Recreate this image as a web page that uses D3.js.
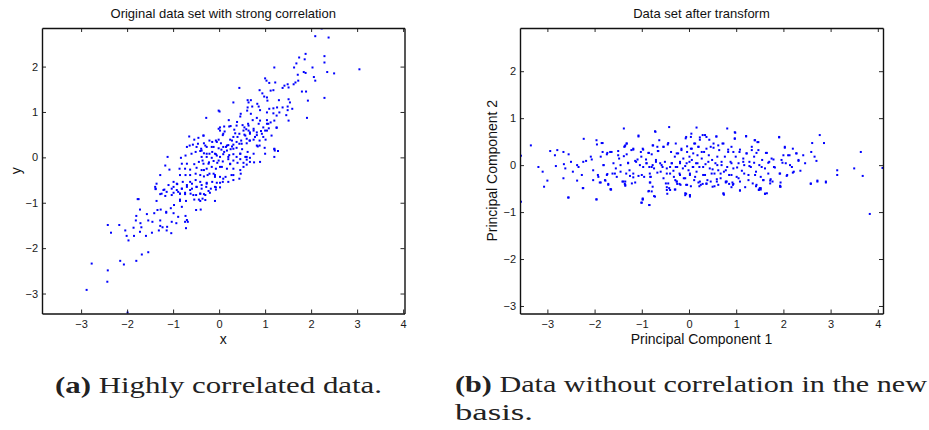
<!DOCTYPE html>
<html>
<head>
<meta charset="utf-8">
<script src="https://cdn.jsdelivr.net/npm/d3@7"></script>
<style>
  body { margin: 0; background: #fff; }
  svg { display: block; }
  .tick text { font-family: "Liberation Sans", Arial, sans-serif; font-size: 11px; fill: #1a1a1a; }
  .ttl, .lbl { font-family: "Liberation Sans", Arial, sans-serif; fill: #111; }
  .cap { font-family: "Liberation Serif", "Times New Roman", serif; font-size: 23px; fill: #222; }
</style>
</head>
<body>
<script>
// original data (x, y)
let origPoints = [
  [2.23,2.84],[2.09,2.67],[2.38,2.64],[3.05,1.94],[2.29,2.23],[1.88,2.28],[1.86,2.16],[1.74,2.20],[1.68,2.07],[2.29,2.09],
  [2.03,1.98],[1.63,1.98],[2.50,1.85],[2.35,1.88],[1.84,1.88],[1.88,1.86],[1.71,1.82],[2.06,1.77],[1.72,1.69],[1.66,1.65],
  [2.09,1.69],[1.62,1.61],[1.49,1.61],[1.51,1.54],[1.80,1.45],[1.89,1.45],[2.29,1.31],[1.93,1.25],[1.20,1.98],[0.44,1.53],
  [1.00,1.74],[1.03,1.69],[1.22,1.65],[1.09,1.64],[1.42,1.58],[1.38,1.53],[1.18,1.48],[1.12,1.47],[0.94,1.41],[0.98,1.34],
  [1.04,1.32],[0.88,1.48],[0.62,1.26],[0.69,1.26],[0.64,1.21],[0.31,1.21],[1.30,1.26],[1.51,1.28],[1.54,1.21],[1.49,1.12],
  [1.38,1.10],[1.26,1.10],[1.59,1.07],[1.49,1.04],[1.46,0.93],[1.51,0.81],[1.91,0.87],[1.05,1.25],[0.83,1.18],[0.86,1.12],
  [0.72,1.12],[0.62,1.10],[0.61,1.03],[1.18,1.08],[1.09,1.07],[0.89,1.04],[1.04,0.99],[1.18,0.97],[1.31,0.99],[1.25,0.92],
  [0.47,0.96],[0.46,0.90],[0.69,0.96],[-0.01,1.03],[0.01,1.01],[-0.28,0.87],[0.21,0.82],[0.39,0.78],[0.82,0.87],[0.89,0.81],
  [0.73,0.82],[1.04,0.82],[1.20,0.81],[1.12,0.77],[1.25,0.65],[1.04,0.74],[1.08,0.64],[0.63,0.74],[0.51,0.71],[0.25,0.69],
  [0.11,0.68],[0.02,0.66],[0.55,0.66],[0.59,0.62],[0.64,0.59],[0.75,0.59],[0.82,0.55],[0.91,0.58],[1.00,0.59],[0.33,0.61],
  [0.22,0.68],[-0.01,0.63],[0.12,0.57],[0.35,0.53],[0.44,0.52],[0.55,0.50],[0.67,0.52],[0.82,0.49],[0.96,0.45],[1.01,0.39],
  [0.88,0.37],[0.75,0.39],[0.60,0.41],[0.67,0.37],[0.48,0.37],[0.38,0.34],[0.31,0.45],[0.08,0.49],[0.24,0.39],[0.44,0.30],
  [0.60,0.31],[0.84,0.24],[0.99,0.21],[1.20,0.18],[1.28,0.14],[1.20,0.01],[1.21,0.15],[0.88,0.26],[0.31,0.28],[0.28,0.24],
  [0.20,0.27],[0.15,0.23],[0.09,0.23],[0.04,0.31],[-0.01,0.39],[-0.07,0.37],[-0.21,0.37],[-0.15,0.34],[-0.33,0.31],[-0.34,0.48],
  [-0.45,0.43],[-0.65,0.46],[-0.54,0.39],[-0.46,0.30],[-0.57,0.28],[-0.64,0.26],[-0.70,0.23],[-0.49,0.23],[-0.39,0.19],[-0.27,0.23],
  [-0.12,0.23],[-0.01,0.20],[0.05,0.17],[0.17,0.15],[0.25,0.18],[0.38,0.21],[0.50,0.18],[0.62,0.12],[0.46,0.08],[0.31,0.07],
  [0.38,0.01],[0.22,0.05],[0.09,0.07],[-0.07,0.07],[-0.15,0.12],[-0.21,0.08],[-0.33,0.09],[-0.41,0.14],[-0.51,0.12],[-0.60,0.08],
  [-0.73,0.04],[-0.83,-0.01],[-1.12,0.01],[-0.38,0.01],[-0.27,0.01],[-0.16,-0.01],[-0.05,0.04],[0.02,0.01],[0.20,-0.04],[0.31,-0.07],
  [0.46,-0.04],[0.57,0.01],[0.67,-0.01],[0.60,-0.05],[0.76,-0.11],[0.53,-0.12],[0.40,-0.12],[0.24,-0.15],[0.08,-0.09],[-0.04,-0.12],
  [-0.12,-0.08],[-0.22,-0.11],[-0.34,-0.14],[-0.44,-0.10],[-0.54,-0.15],[-0.70,-0.14],[-0.81,-0.14],[-1.17,-0.18],[-1.08,-0.27],[-0.86,-0.25],
  [-0.74,-0.25],[-0.63,-0.27],[-0.49,-0.23],[-0.38,-0.28],[-0.27,-0.25],[-0.16,-0.21],[-0.07,-0.25],[0.06,-0.21],[0.17,-0.25],[0.31,-0.25],
  [0.47,-0.36],[0.44,-0.47],[0.60,-0.16],[-1.28,-0.39],[-1.36,-0.58],[-1.38,-0.69],[-1.19,-0.71],[-0.99,-0.54],[-0.85,-0.39],[-0.73,-0.39],
  [-0.63,-0.39],[-0.51,-0.36],[-0.41,-0.39],[-0.33,-0.42],[-0.21,-0.36],[-0.09,-0.39],[0.02,-0.43],[0.14,-0.43],[0.27,-0.39],[0.31,-0.50],
  [0.20,-0.54],[0.08,-0.54],[-0.05,-0.56],[-0.15,-0.54],[-0.27,-0.56],[-0.41,-0.54],[-0.51,-0.50],[-0.63,-0.54],[-0.79,-0.54],[-0.91,-0.59],
  [-1.03,-0.69],[-0.92,-0.72],[-0.81,-0.69],[-0.70,-0.65],[-0.59,-0.69],[-0.49,-0.65],[-0.38,-0.69],[-0.28,-0.65],[-0.18,-0.69],[-0.07,-0.71],
  [0.02,-0.66],[-1.14,-0.76],[-0.99,-0.78],[-0.85,-0.80],[-0.74,-0.81],[-0.62,-0.80],[-0.50,-0.83],[-0.41,-0.80],[-0.30,-0.83],[-0.20,-0.78],
  [-1.25,-0.80],[-1.75,-0.92],[-0.85,-0.93],[-0.44,-0.93],[-0.36,-0.91],[-1.39,-0.65],[-1.38,-0.70],[-1.21,-0.72],[-1.10,-0.61],[-0.99,-0.65],
  [-0.92,-0.58],[-0.81,-0.69],[-0.70,-0.61],[-0.59,-0.58],[-0.49,-0.65],[-0.38,-0.61],[-0.27,-0.58],[-0.09,-0.65],[0.02,-0.56],[-1.36,-0.96],
  [-1.28,-0.81],[-1.17,-0.85],[-1.03,-0.83],[-0.89,-0.76],[-0.85,-0.80],[-0.74,-0.78],[-0.63,-0.72],[-0.56,-0.83],[-0.41,-0.80],[-0.33,-0.81],
  [-0.23,-0.74],[-0.07,-0.66],[-1.77,-0.92],[-1.27,-1.15],[-1.34,-1.16],[-1.15,-1.20],[-1.05,-1.12],[-0.98,-1.05],[-0.81,-1.09],[-0.99,-1.23],
  [-1.15,-1.22],[-0.85,-0.96],[-0.72,-0.96],[-0.54,-0.93],[-0.41,-0.96],[-0.30,-0.94],[-0.09,-0.96],[-0.50,-1.16],[-0.40,-1.15],[-0.89,-1.31],
  [-0.73,-1.29],[-0.70,-1.38],[-0.74,-1.42],[-0.68,-1.42],[-0.93,-1.45],[-1.03,-1.42],[-1.28,-1.39],[-1.41,-1.23],[-1.57,-1.25],[-1.72,-1.15],
  [-1.80,-1.29],[-1.81,-1.39],[-1.54,-1.39],[-1.45,-1.42],[-1.71,-1.45],[-1.69,-1.54],[-1.86,-1.55],[-1.28,-1.51],[-1.23,-1.54],[-1.13,-1.53],
  [-1.04,-1.67],[-1.14,-1.61],[-1.31,-1.61],[-1.46,-1.66],[-1.59,-1.73],[-1.72,-1.64],[-1.85,-1.73],[-2.04,-1.61],[-2.01,-1.73],[-1.97,-1.83],
  [-2.17,-1.49],[-2.35,-1.66],[-2.42,-1.49],[-0.72,-1.56],[-1.54,-2.09],[-1.68,-2.14],[-1.80,-2.28],[-2.15,-2.28],[-2.07,-2.36],[-2.77,-2.34],
  [-2.42,-2.49],[-2.43,-2.74],[-2.88,-2.92],[-1.99,-3.42],
  [-0.34,0.48],[-0.30,0.26],[-0.38,0.15],[-0.27,0.08],[-0.36,-0.07],[-0.23,-0.14],[-0.33,-0.28],[-0.25,-0.39],[-0.12,-0.36],[-0.16,0.23],
  [-0.09,0.08],[-0.05,0.34],[-0.01,-0.07],[0.02,-0.21],[0.09,0.52],[0.11,0.12],[0.17,0.26],[0.20,0.01],[0.24,-0.14],[0.28,0.37],
  [0.31,0.19],[0.38,0.70],[0.40,0.45],[0.46,0.08],[0.49,0.30],[0.53,0.59],[0.57,0.48],[0.60,0.01],[0.64,0.70],[0.66,0.37],
  [0.67,0.55],[0.75,0.63],[0.78,0.45],[0.82,0.26],[0.86,0.74],[0.93,0.52],[0.96,0.66],[1.04,0.59],[1.07,0.74],[1.14,0.48],
  [1.25,0.66],[1.20,0.19],[1.00,0.08],[0.89,-0.10],[0.67,-0.10],[0.46,-0.28],[0.31,-0.39],[0.09,-0.47],[-0.09,-0.43],[0.53,-0.21],
  [0.75,0.08],[0.02,0.59]
];

// transformed data (pc1, pc2)
let pcPoints = [
  [-3.58,0.42],[-3.56,0.20],[-3.35,0.42],[-3.19,-0.04],[-3.10,-0.14],[-3.07,-0.46],[-3.00,-0.33],[-2.94,0.30],[-2.84,0.21],[-2.79,0.32],
  [-2.82,-0.02],[-2.66,0.28],[-2.65,0.02],[-2.62,-0.07],[-2.66,-0.28],[-2.55,0.23],[-2.55,-0.69],[-2.50,0.07],[-2.46,-0.14],[-2.37,0.00],
  [-2.34,-0.04],[-2.37,-0.33],[-2.27,-0.21],[-2.24,0.07],[-2.23,0.56],[-2.25,-0.49],[-2.18,0.09],[-2.08,0.18],[-2.06,0.12],[-2.03,-0.11],
  [-2.03,-0.32],[-1.96,0.53],[-1.95,0.44],[-1.93,-0.21],[-1.92,-0.25],[-1.96,-0.73],[-1.87,0.18],[-1.87,-0.37],[-1.85,0.47],[-1.83,0.28],
  [-1.81,0.00],[-1.78,-0.32],[-1.74,0.23],[-1.73,-0.19],[-1.71,-0.42],[-1.67,0.28],[-1.66,-0.52],[-1.62,-0.18],[-1.55,-0.07],[-1.53,-0.25],
  [-1.50,0.30],[-1.48,0.14],[-1.45,-0.14],[-1.41,-0.35],[-1.38,0.78],[-1.37,0.39],[-1.35,0.42],[-1.32,0.46],[-1.32,0.23],[-1.38,0.19],
  [-1.35,-0.42],[-1.35,-0.35],[-1.29,0.04],[-1.26,-0.11],[-1.25,-0.23],[-1.22,0.32],[-1.18,0.35],[-1.18,-0.18],[-1.14,0.09],[-1.09,0.12],
  [-1.07,0.61],[-1.07,-0.23],[-1.02,0.28],[-1.01,0.18],[-0.98,0.35],[-0.98,-0.73],[-0.97,-0.04],[-0.95,-0.25],[-0.91,0.12],[-0.90,0.04],
  [-0.86,0.26],[-0.84,-0.04],[-0.83,-0.18],[-0.81,-0.25],[-0.79,0.23],[-0.79,-0.56],[-0.77,0.00],[-0.76,0.42],[-0.74,-0.07],[-0.72,0.72],
  [-0.72,-0.67],[-0.70,0.11],[-0.67,0.39],[-0.65,0.30],[-0.63,0.53],[-0.61,0.04],[-0.60,-0.14],[-0.56,-0.04],[-0.54,0.39],[-0.51,0.07],
  [-0.49,-0.39],[-0.47,-0.18],[-0.44,0.47],[-0.42,0.81],[-0.42,-0.49],[-0.40,-0.04],[-0.38,0.28],[-0.36,0.04],[-0.33,-0.12],[-0.32,-0.25],
  [-0.30,0.18],[-0.28,0.46],[-0.26,-0.35],[-0.25,-0.04],[-0.23,0.25],[-0.20,-0.18],[-0.19,0.04],[-0.18,-0.42],[-0.16,0.35],[-0.13,-0.07],
  [-0.12,0.14],[-0.11,-0.28],[-0.08,-0.64],[-0.06,0.60],[-0.05,0.04],[-0.04,0.28],[-0.01,-0.11],[0.01,0.18],[0.02,-0.21],[0.02,-0.67],
  [0.04,0.35],[0.05,0.67],[0.06,0.11],[0.08,-0.04],[0.09,0.25],[0.11,-0.32],[0.13,0.46],[0.15,0.04],[0.16,0.80],[0.16,-0.14],
  [0.18,0.21],[0.20,0.39],[0.22,-0.04],[0.23,0.54],[0.25,-0.42],[0.27,0.14],[0.29,0.64],[0.30,-0.21],[0.32,0.28],[0.35,0.02],
  [0.37,0.60],[0.39,-0.32],[0.42,0.21],[0.44,-0.07],[0.46,0.39],[0.49,0.11],[0.50,-0.46],[0.52,0.46],[0.54,-0.18],[0.56,0.04],
  [0.58,0.61],[0.59,-0.35],[0.60,0.18],[0.62,-0.11],[0.64,0.32],[0.67,-0.28],[0.69,0.00],[0.71,0.46],[0.73,-0.60],[0.74,-0.14],
  [0.76,0.18],[0.78,-0.35],[0.81,0.78],[0.81,-0.04],[0.83,0.28],[0.85,-0.21],[0.88,0.07],[0.90,0.39],[0.93,-0.42],[0.94,-0.07],
  [0.97,0.70],[0.97,0.56],[0.99,0.18],[1.01,-0.25],[1.05,0.04],[1.07,0.28],[1.08,-0.35],[1.12,-0.12],[1.15,0.14],[1.17,0.00],
  [1.21,0.61],[1.22,0.25],[1.26,-0.21],[1.28,0.07],[1.31,-0.04],[1.33,0.39],[1.35,-0.39],[1.38,0.18],[1.40,0.53],[1.42,-0.14],
  [1.45,0.49],[1.47,0.32],[1.48,-0.53],[1.49,0.00],[1.50,-0.49],[1.52,-0.25],[1.55,0.11],[1.57,-0.32],[1.61,-0.07],[1.63,0.26],
  [1.65,-0.60],[1.68,-0.18],[1.70,0.07],[1.75,0.14],[1.77,-0.35],[1.80,-0.04],[1.91,0.59],[1.92,-0.18],[1.94,-0.46],[1.96,0.11],
  [2.00,0.21],[2.03,0.39],[2.05,0.04],[2.08,-0.21],[2.13,0.21],[2.18,-0.04],[2.20,0.35],[2.22,-0.14],[2.27,0.25],[2.32,0.11],
  [2.36,-0.12],[2.42,0.21],[2.46,0.04],[2.58,-0.39],[2.59,0.28],[2.61,0.47],[2.66,0.18],[2.70,0.09],[2.72,-0.33],[2.77,0.64],
  [2.86,0.47],[2.90,-0.35],[3.14,-0.11],[3.14,-0.21],[3.50,-0.07],[3.64,0.28],[3.68,-0.23],[4.10,-0.06],
  [-3.56,-0.78],[-2.56,-0.69],[-2.24,-0.49],[-1.96,-0.73],[-1.89,-0.37],[-1.77,-0.33],[-1.71,-0.40],[-1.66,-0.51],[-1.39,-0.35],[-1.35,-0.44],
  [-1.14,-0.37],[-1.01,-0.80],[-0.98,-0.71],[-0.84,-0.85],[-0.83,-0.37],[-0.77,-0.46],[-0.74,-0.66],[-0.86,-0.56],[-0.47,-0.47],[-0.46,-0.61],
  [-0.40,-0.53],[-0.30,-0.52],[-0.26,-0.35],[-0.20,-0.40],[-0.06,-0.42],[-0.08,-0.60],[0.02,-0.64],[0.04,-0.45],[0.20,-0.37],[0.22,-0.45],
  [0.29,-0.40],[0.37,-0.40],[0.46,-0.35],[0.54,-0.45],[0.73,-0.61],[0.78,-0.37],[0.85,-0.40],[0.90,-0.47],[0.94,-0.40],[1.08,-0.54],
  [1.19,-0.47],[1.42,-0.45],[1.48,-0.52],[1.52,-0.49],[1.61,-0.61],[1.72,-0.39],[1.93,-0.46],[1.94,-0.37],[2.58,-0.40],[2.72,-0.35],
  [2.90,-0.37],[3.83,-1.04],
  [0.98,0.69],[-0.71,0.71],[-1.07,0.63],[1.21,0.62],[1.91,0.60],[0.34,0.64],[0.23,0.59],[0.43,0.54],[0.58,0.61],[0.04,0.60],
  [-0.07,0.57],[0.97,0.57],[1.39,0.53],[1.47,0.49],[-1.83,0.47],[-1.32,0.46],[-1.36,0.40],[-1.18,0.33],[-0.97,0.33],[-0.85,0.26],
  [-0.77,0.42],[-0.66,0.30],[-0.54,0.39],[-0.45,0.44],[-0.26,0.25],[-0.16,0.32],[-0.04,0.40],[0.06,0.35],[0.11,0.46],[0.20,0.39],
  [0.27,0.28],[0.37,0.35],[0.52,0.37],[0.62,0.42],[0.73,0.46],[0.83,0.33],[0.94,0.28],[1.08,0.33],[1.22,0.25],[1.33,0.32],
  [1.43,0.26],[1.65,0.26],[1.79,0.12],[2.03,0.37],[2.10,0.21],[2.28,0.25],[-1.73,0.26],[-1.64,0.28],[-1.50,0.21],
  [-1.81,0.00],[-1.60,0.04],[-1.45,0.00],[-1.29,0.05],[-1.12,0.07],[-1.04,0.00],[-0.90,0.04],[-0.79,-0.04],[-0.70,0.07],[-0.58,0.00],
  [-0.47,-0.07],[-0.37,0.04],[-0.28,-0.04],[-0.19,0.07],[-0.08,-0.02],[0.01,0.07],[0.09,-0.04],[0.18,0.04],[0.30,-0.04],[0.41,0.07],
  [0.50,-0.09],[0.60,0.00],[0.69,0.07],[0.78,-0.11],[0.90,0.04],[1.02,-0.05],[1.15,0.07],[1.28,-0.02],[1.38,0.05],[1.54,-0.04],
  [1.68,0.05],[1.82,-0.05],[1.98,0.05],[2.14,0.00],[2.32,0.09],
  [-1.74,-0.21],[-1.57,-0.18],[-1.33,-0.18],[-1.18,-0.26],[-1.00,-0.21],[-0.82,-0.25],[-0.67,-0.16],[-0.54,-0.28],[-0.40,-0.18],[-0.29,-0.32],
  [-0.19,-0.21],[-0.08,-0.28],[0.02,-0.18],[0.13,-0.25],[0.23,-0.35],[0.34,-0.21],[0.48,-0.18],[0.59,-0.30],[0.67,-0.18],[0.80,-0.35],
  [0.90,-0.21],[1.05,-0.28],[1.17,-0.18],[1.26,-0.32],[1.40,-0.21],[1.58,-0.32],[1.73,-0.30],[1.93,-0.18],[2.07,-0.23],[2.20,-0.16],
  [-1.36,-0.40],[-1.21,-0.39],[-0.82,-0.37],[-0.44,-0.39],[-0.25,-0.40],[-0.04,-0.42],[0.37,-0.39],[0.62,-0.42],[0.92,-0.37],[1.43,-0.42],
  [1.72,-0.33],[1.93,-0.44],
  [-1.65,-0.52],[-0.85,-0.55],[-0.47,-0.53],[-0.29,-0.52],[-0.06,-0.61],[1.08,-0.54],[1.52,-0.52],[-0.98,-0.73],[-1.00,-0.80],[-0.84,-0.85],
  [0.74,-0.63],[1.61,-0.61],[0.02,-0.64]
];

let tickValsX = [-3, -2, -1, 0, 1, 2, 3, 4];
let tickValsY = [-3, -2, -1, 0, 1, 2];

let panels = [
  {
    data: origPoints,
    title: "Original data set with strong correlation",
    xLabel: "x", yLabel: "y",
    xDomain: [-3.85, 4.03], yDomain: [-3.44, 2.85],
    left: 42, right: 404.5, top: 28, bottom: 313.5,
    yLabelX: 20.5
  },
  {
    data: pcPoints,
    title: "Data set after transform",
    xLabel: "Principal Component 1", yLabel: "Principal Component 2",
    xDomain: [-3.58, 4.11], yDomain: [-3.16, 2.92],
    left: 520, right: 883, top: 28, bottom: 313.5,
    yLabelX: 497
  }
];

let svg = d3.select("body").append("svg")
  .attr("width", 929)
  .attr("height", 430);

panels.forEach(function(p) {
  let x = d3.scaleLinear().domain(p.xDomain).range([p.left, p.right]);
  let y = d3.scaleLinear().domain(p.yDomain).range([p.bottom, p.top]);
  let g = svg.append("g");
  let fmt = d3.format("d");

  // clip so markers on the edge are cut like MATLAB
  let clipId = "clip" + p.left;
  svg.append("clipPath").attr("id", clipId)
    .append("rect")
    .attr("x", p.left).attr("y", p.top)
    .attr("width", p.right - p.left).attr("height", p.bottom - p.top);

  g.append("g")
    .attr("clip-path", "url(#" + clipId + ")")
    .selectAll("rect")
    .data(p.data)
    .enter().append("rect")
    .attr("x", function(d) { return x(d[0]) - 1; })
    .attr("y", function(d) { return y(d[1]) - 1; })
    .attr("width", 2)
    .attr("height", 2)
    .attr("fill", "#0000ff");

  /* ------- AXES -------*/
  let bottomAxis = d3.axisBottom(x).tickValues(tickValsX).tickFormat(fmt)
    .tickSizeInner(-4).tickSizeOuter(0).tickPadding(7);
  let topAxis = d3.axisTop(x).tickValues(tickValsX).tickFormat("")
    .tickSizeInner(-4).tickSizeOuter(0);
  let leftAxis = d3.axisLeft(y).tickValues(tickValsY).tickFormat(fmt)
    .tickSizeInner(-4).tickSizeOuter(0).tickPadding(4);
  let rightAxis = d3.axisRight(y).tickValues(tickValsY).tickFormat("")
    .tickSizeInner(-4).tickSizeOuter(0);

  [
    [bottomAxis, "translate(0," + p.bottom + ")"],
    [topAxis, "translate(0," + p.top + ")"],
    [leftAxis, "translate(" + p.left + ",0)"],
    [rightAxis, "translate(" + p.right + ",0)"]
  ].forEach(function(a) {
    let ax = g.append("g").attr("transform", a[1]).call(a[0]);
    ax.select(".domain").attr("stroke", "#111").attr("stroke-width", 1.4);
    ax.selectAll(".tick line").attr("stroke", "#111").attr("stroke-width", 0.9);
  });

  /* ------- TEXT -------*/
  let cx = (p.left + p.right) / 2;
  g.append("text").attr("class", "ttl")
    .attr("x", cx).attr("y", 18)
    .attr("text-anchor", "middle")
    .style("font-size", "13px")
    .text(p.title);

  g.append("text").attr("class", "lbl")
    .attr("x", cx).attr("y", 344)
    .attr("text-anchor", "middle")
    .style("font-size", "14px")
    .text(p.xLabel);

  g.append("text").attr("class", "lbl")
    .attr("transform", "translate(" + p.yLabelX + "," + ((p.top + p.bottom) / 2) + ") rotate(-90)")
    .attr("text-anchor", "middle")
    .style("font-size", "14px")
    .text(p.yLabel);
});

/* ------- CAPTIONS -------*/
let capA = svg.append("text").attr("class", "cap")
  .attr("x", 55).attr("y", 392.5)
  .attr("textLength", 327).attr("lengthAdjust", "spacingAndGlyphs");
capA.append("tspan").style("font-weight", "bold").text("(a)");
capA.append("tspan").text(" Highly correlated data.");

let capB = svg.append("text").attr("class", "cap")
  .attr("x", 455).attr("y", 391.5)
  .attr("textLength", 472).attr("lengthAdjust", "spacingAndGlyphs");
capB.append("tspan").style("font-weight", "bold").text("(b)");
capB.append("tspan").text(" Data without correlation in the new");

svg.append("text").attr("class", "cap")
  .attr("x", 455).attr("y", 420)
  .attr("textLength", 78).attr("lengthAdjust", "spacingAndGlyphs")
  .text("basis.");
</script>
</body>
</html>
